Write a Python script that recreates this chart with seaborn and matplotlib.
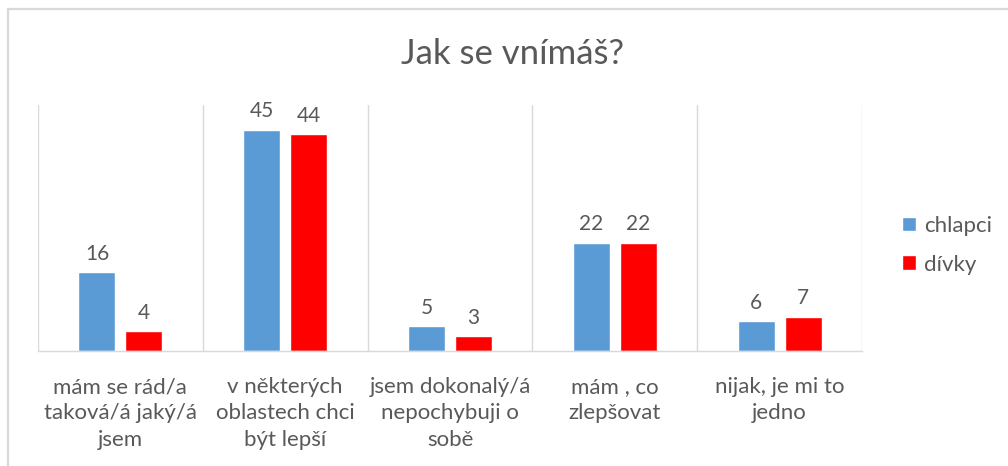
import numpy as np
import pandas as pd
import matplotlib
matplotlib.use("Agg")
import matplotlib.pyplot as plt
import seaborn as sns
from matplotlib.lines import Line2D

categories = ["mám se rád/a\ntaková/á jaký/á\njsem",
              "v některých\noblastech chci\nbýt lepší",
              "jsem dokonalý/á\nnepochybuji o\nsobě",
              "mám , co\nzlepšovat",
              "nijak, je mi to\njedno"]
chlapci = [16, 45, 5, 22, 6]
divky = [4, 44, 3, 22, 7]
series = ["chlapci", "dívky"]
colors = ["#5B9BD5", "#FF0000"]

df = pd.DataFrame({
    "cat": categories * 2,
    "value": chlapci + divky,
    "group": [series[0]] * len(categories) + [series[1]] * len(categories),
})

sns.set_style("white")
plt.rcParams["font.family"] = ["Lato", "DejaVu Sans"]
text_color = "#595959"

fig = plt.figure(figsize=(10.08, 4.66), dpi=100)
ax = fig.add_axes([0.0377, 0.2468, 0.8175, 0.528])

sns.barplot(data=df, x="cat", y="value", hue="group", palette=colors,
            width=0.57, gap=0.21, ax=ax, saturation=1)

for c in ax.containers:
    ax.bar_label(c, padding=6, fontsize=15, color=text_color)

ax.set_ylim(0, 50)
ax.set_xlim(-0.5, 4.5)
ax.set_yticks([])
ax.set_xlabel("")
ax.set_ylabel("")
ax.set_xticks(np.arange(-0.5, 5, 1), minor=True)
ax.tick_params(axis="x", which="major", length=0, pad=19, labelsize=16, labelcolor=text_color)
ax.tick_params(axis="x", which="minor", length=0)
for lab in ax.get_xticklabels():
    lab.set_linespacing(1.38)
ax.grid(axis="x", which="minor", color="#D9D9D9", linewidth=1)
ax.grid(axis="x", which="major", visible=False)
for s in ["top", "right", "left"]:
    ax.spines[s].set_visible(False)
ax.spines["bottom"].set_color("#D9D9D9")
ax.spines["bottom"].set_linewidth(1)

ax.legend(loc="center left", bbox_to_anchor=(1.024, 0.43), frameon=False,
          fontsize=16, labelcolor=text_color, handlelength=0.65, handleheight=0.65,
          handletextpad=0.35, labelspacing=0.85)

fig.text(0.508, 0.885, "Jak se vnímáš?", ha="center", va="center", fontsize=25, color=text_color)

# chart border (only top and left edges visible in the crop)
fig.add_artist(Line2D([0.008, 1.0], [0.9807, 0.9807], transform=fig.transFigure,
                      color="#D9D9D9", linewidth=1.6))
fig.add_artist(Line2D([0.008, 0.008], [0.0, 0.9807], transform=fig.transFigure,
                      color="#D9D9D9", linewidth=1.6))

fig.savefig("out.png", dpi=100)
